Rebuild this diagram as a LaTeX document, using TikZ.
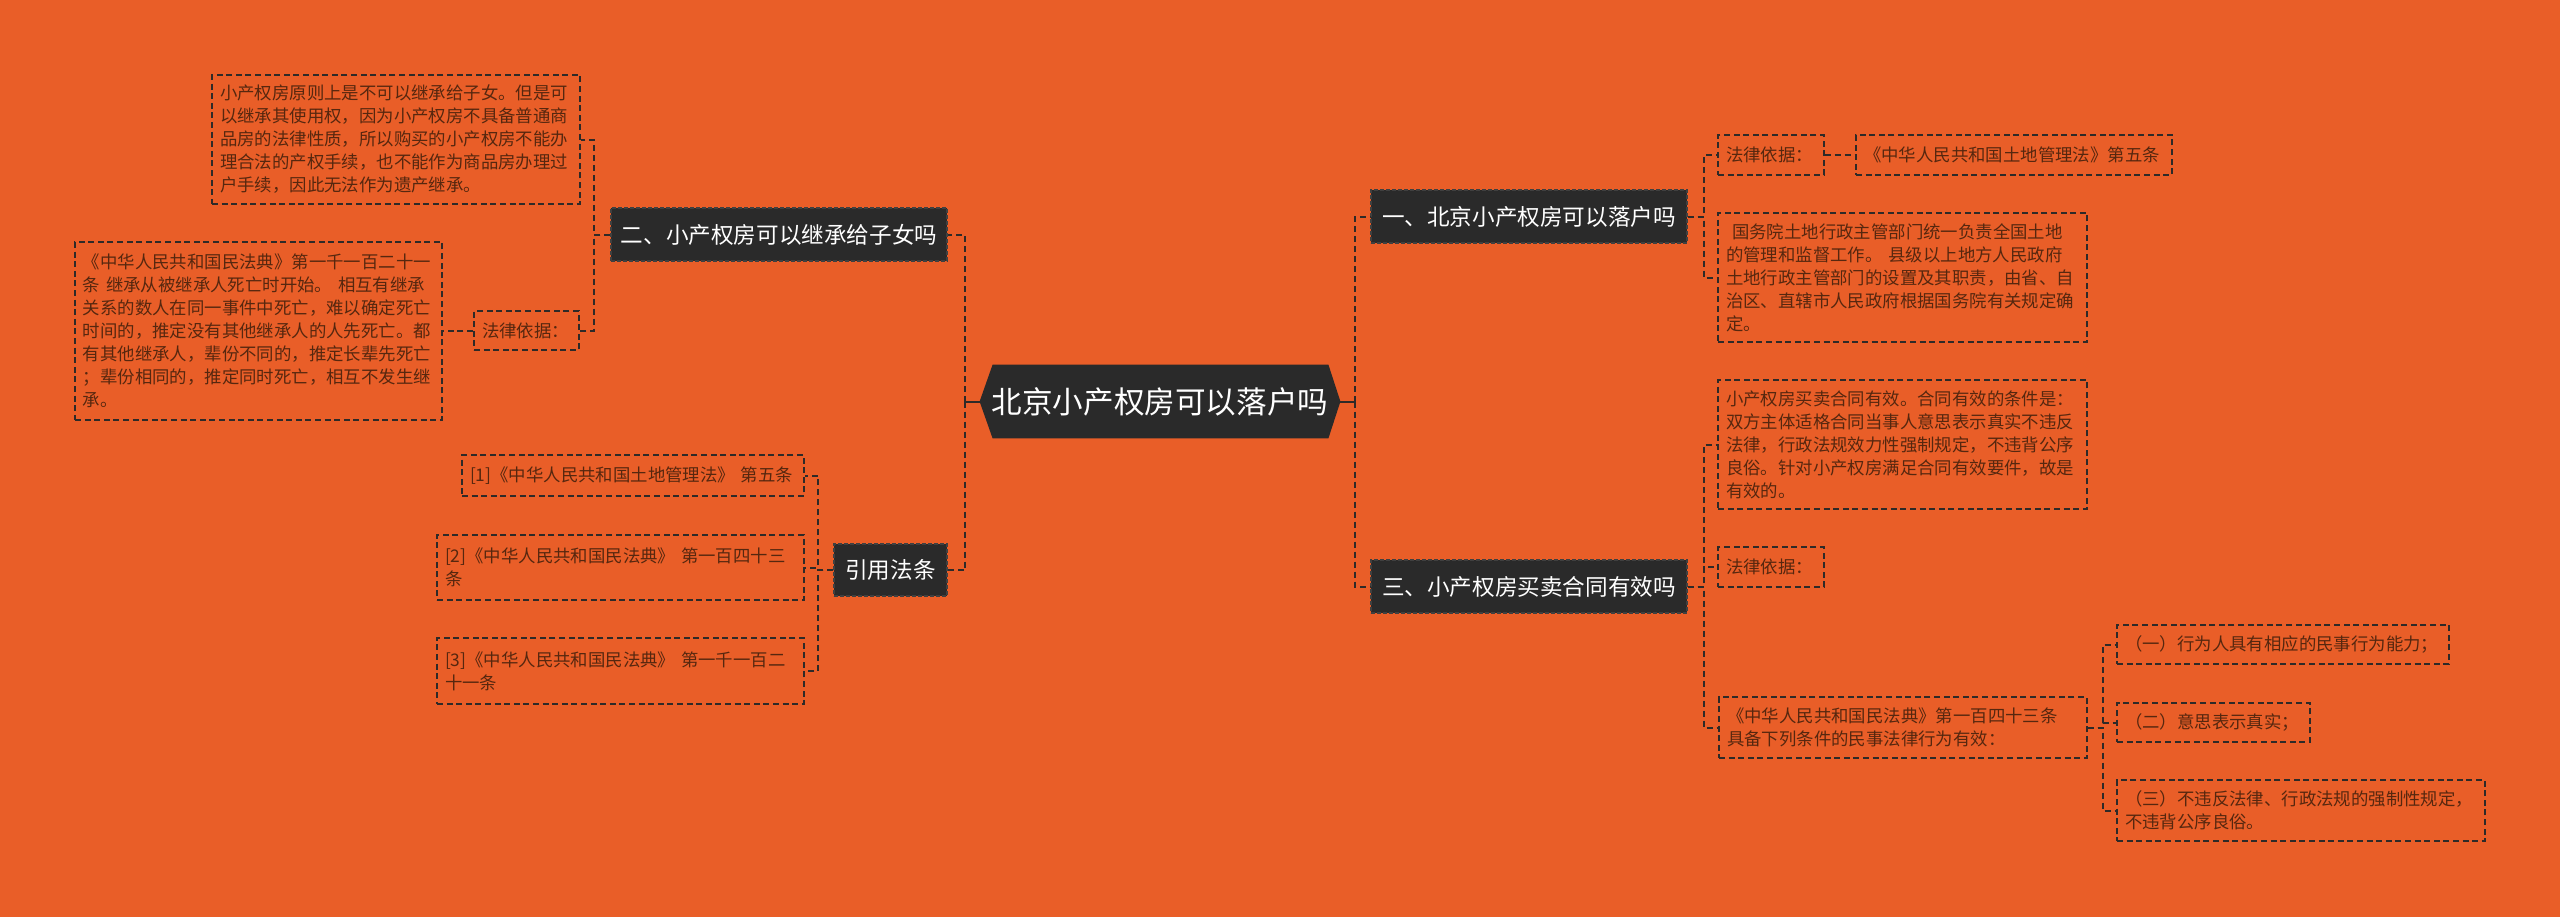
\documentclass[tikz,border=0pt]{standalone}
\usepackage{fontspec}
\setmainfont{Noto Sans CJK SC}
\usepackage{xcolor}
\usetikzlibrary{positioning}
\definecolor{mapBg}{HTML}{E95E28}
\definecolor{mapDark}{HTML}{2A2A2A}
\definecolor{mapLine}{HTML}{2E2A28}
\definecolor{mapText}{HTML}{56270F}
\newcommand\leaffont{\fontsize{8.7pt}{11.5pt}\selectfont}
\newcommand\topicfont{\fontsize{11.3pt}{13pt}\selectfont}
\newcommand\rootfont{\fontsize{15.3pt}{17pt}\selectfont}
\pgfdeclarelayer{canvas}
\pgfsetlayers{canvas,main}

\begin{document}
\begin{tikzpicture}[
    x=0.5pt,y=-0.5pt,
    leaf/.style={draw=mapLine,line width=0.7pt,dash pattern=on 3pt off 1.8pt,
                 text=mapText,font=\leaffont,align=left,inner xsep=4pt,inner ysep=2pt},
    topic/.style={draw=black!75,line width=0.6pt,dash pattern=on 2pt off 1pt,
                  fill=mapDark,text=white,font=\topicfont,inner sep=2pt},
    hub/.style={text=white,font=\rootfont,inner sep=0pt},
    link/.style={draw=mapLine,line width=1pt,dash pattern=on 3pt off 2pt},
    stub/.style={draw=mapLine,line width=1pt}
  ]
    \useasboundingbox (0,0) rectangle (2560,917);

    % centre
    \node[hub,minimum width=180pt,minimum height=36.5pt] (root) at (1160,401.5) {北京小产权房可以落户吗};

    % left side
    \node[topic,minimum width=168pt,minimum height=26.5pt] (inherit) at (779,234.5) {二、小产权房可以继承给子女吗};
    \node[topic,minimum width=56.5pt,minimum height=26pt] (cite) at (890.5,570) {引用法条};

    \node[leaf,text width=176pt,minimum height=64.5pt] (inhA) at (396,139.5)
      {小产权房原则上是不可以继承给子女。但是可\\以继承其使用权，因为小产权房不具备普通商\\品房的法律性质，所以购买的小产权房不能办\\理合法的产权手续，也不能作为商品房办理过\\户手续，因此无法作为遗产继承。};
    \node[leaf,text width=44.5pt,minimum height=19.5pt] (inhLaw) at (526.5,330.5) {法律依据：};
    \node[leaf,text width=175.5pt,minimum height=89pt] (inhB) at (258.5,331)
      {《中华人民共和国民法典》第一千一百二十一\\条 继承从被继承人死亡时开始。 相互有继承\\关系的数人在同一事件中死亡，难以确定死亡\\时间的，推定没有其他继承人的人先死亡。都\\有其他继承人，辈份不同的，推定长辈先死亡\\；辈份相同的，推定同时死亡，相互不发生继\\承。};

    \node[leaf,text width=163pt,minimum height=20.5pt] (ref1) at (633,475.5) {[1]《中华人民共和国土地管理法》 第五条};
    \node[leaf,text width=175.5pt,minimum height=32.5pt] (ref2) at (620.5,567.5) {[2]《中华人民共和国民法典》 第一百四十三\\条};
    \node[leaf,text width=175.5pt,minimum height=33pt] (ref3) at (620.5,671) {[3]《中华人民共和国民法典》 第一千一百二\\十一条};

    % right side
    \node[topic,minimum width=158pt,minimum height=26.5pt] (settle) at (1529,216.5) {一、北京小产权房可以落户吗};
    \node[topic,minimum width=158pt,minimum height=26.5pt] (contract) at (1529,586.5) {三、小产权房买卖合同有效吗};

    \node[leaf,text width=45pt,minimum height=20pt] (setLaw) at (1771,155) {法律依据：};
    \node[leaf,text width=150pt,minimum height=20pt] (setAct) at (2014,155) {《中华人民共和国土地管理法》第五条};
    \node[leaf,text width=176.5pt,minimum height=64.5pt] (setText) at (1902.5,277.5)
      {\hspace{3pt}国务院土地行政主管部门统一负责全国土地\\的管理和监督工作。 县级以上地方人民政府\\土地行政主管部门的设置及其职责，由省、自\\治区、直辖市人民政府根据国务院有关规定确\\定。};

    \node[leaf,text width=176.5pt,minimum height=64.5pt] (conText) at (1902.5,444.5)
      {小产权房买卖合同有效。合同有效的条件是：\\双方主体适格合同当事人意思表示真实不违反\\法律，行政法规效力性强制规定，不违背公序\\良俗。针对小产权房满足合同有效要件，故是\\有效的。};
    \node[leaf,text width=45pt,minimum height=20pt] (conLaw) at (1771,567) {法律依据：};
    \node[leaf,text width=176pt,minimum height=30.5pt] (conCode) at (1903,727.5)
      {《中华人民共和国民法典》第一百四十三条\\具备下列条件的民事法律行为有效：};

    \node[leaf,text width=158pt,minimum height=19.5pt] (cond1) at (2283,644.5) {（一）行为人具有相应的民事行为能力；};
    \node[leaf,text width=88.5pt,minimum height=19.5pt] (cond2) at (2213.5,722.5) {（二）意思表示真实；};
    \node[leaf,text width=176pt,minimum height=30.5pt] (cond3) at (2301,810.5)
      {（三）不违反法律、行政法规的强制性规定，\\不违背公序良俗。};

    % background and centre shape
    \begin{pgfonlayer}{canvas}
      \fill[mapBg] (0,0) rectangle (2560,917);
      \fill[mapDark] (root.west) -- ([xshift=6.5pt]root.north west) -- ([xshift=-6pt]root.north east)
        -- (root.east) -- ([xshift=-6pt]root.south east) -- ([xshift=6.5pt]root.south west) -- cycle;
    \end{pgfonlayer}

    % connectors
    \coordinate (lj) at (965,401.5);
    \coordinate (rj) at (1355,401.5);
    \draw[stub] (root.west) -- (lj);
    \draw[stub] (root.east) -- (rj);
    \draw[link] (lj) |- (inherit.east);
    \draw[link] (lj) |- (cite.east);
    \draw[link] (rj) |- (settle.west);
    \draw[link] (rj) |- (contract.west);

    \draw[link] (inherit.west) -- ++(-16,0) |- (inhA.east);
    \draw[link] (inherit.west) -- ++(-16,0) |- (inhLaw.east);
    \draw[link] (inhLaw.west) -- ++(-16,0) |- (inhB.east);
    \draw[link] (cite.west) -- ++(-15,0) |- (ref1.east);
    \draw[link] (cite.west) -- ++(-15,0) |- (ref2.east);
    \draw[link] (cite.west) -- ++(-15,0) |- (ref3.east);

    \draw[link] (settle.east) -- ++(16,0) |- (setLaw.west);
    \draw[link] (settle.east) -- ++(16,0) |- (setText.west);
    \draw[link] (setLaw.east) -- ++(16,0) |- (setAct.west);
    \draw[link] (contract.east) -- ++(16,0) |- (conText.west);
    \draw[link] (contract.east) -- ++(16,0) |- (conLaw.west);
    \draw[link] (contract.east) -- ++(16,0) |- (conCode.west);
    \draw[link] (conCode.east) -- ++(15,0) |- (cond1.west);
    \draw[link] (conCode.east) -- ++(15,0) |- (cond2.west);
    \draw[link] (conCode.east) -- ++(15,0) |- (cond3.west);
  \end{tikzpicture}
\end{document}
